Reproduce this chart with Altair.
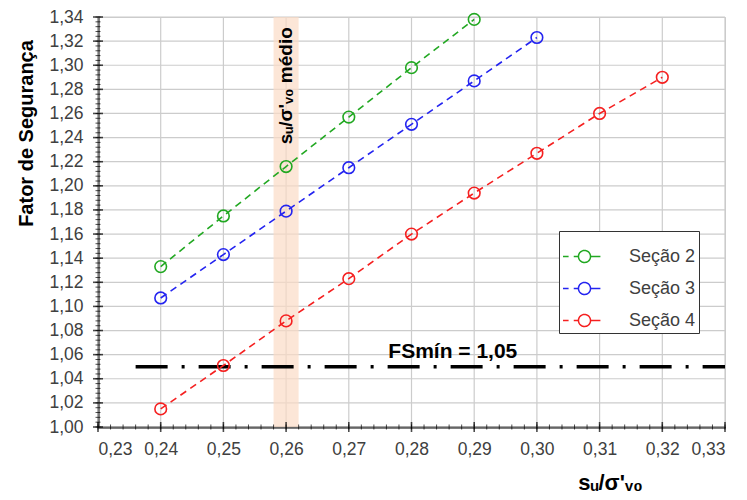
import altair as alt
import pandas as pd

# ---- data ----
series = ["Seção 2", "Seção 3", "Seção 4"]
colors = ["#22a822", "#2424f0", "#f52020"]

x_s2 = [0.24, 0.25, 0.26, 0.27, 0.28, 0.29]
y_s2 = [1.133, 1.175, 1.216, 1.257, 1.298, 1.338]
x_s3 = [0.24, 0.25, 0.26, 0.27, 0.28, 0.29, 0.30]
y_s3 = [1.107, 1.143, 1.179, 1.215, 1.251, 1.287, 1.323]
x_s4 = [0.24, 0.25, 0.26, 0.27, 0.28, 0.29, 0.30, 0.31, 0.32]
y_s4 = [1.015, 1.051, 1.088, 1.123, 1.160, 1.194, 1.227, 1.260, 1.290]

band_x = [0.258, 0.262]
fs_value = 1.05
fs_x = [0.236, 0.33]
fs_label = "FSmín = 1,05"
fs_label_pos = [0.2763, 1.0572]
band_label = "sᵤ/σ'ᵥ₀ médio"
band_label_pos = [0.26, 1.283]

x_ticks = [0.23, 0.24, 0.25, 0.26, 0.27, 0.28, 0.29, 0.30, 0.31, 0.32, 0.33]
y_ticks = [1.00, 1.02, 1.04, 1.06, 1.08, 1.10, 1.12, 1.14, 1.16, 1.18, 1.20,
           1.22, 1.24, 1.26, 1.28, 1.30, 1.32, 1.34]
x_minor = [round(0.23 + 0.002 * i, 4) for i in range(51)]
y_minor = [round(1.00 + 0.004 * i, 4) for i in range(86)]

x_title = "sᵤ/σ'ᵥ₀"
y_title = "Fator de Segurança"

# ---- tables ----
rows = []
for name, xs, ys in zip(series, [x_s2, x_s3, x_s4], [y_s2, y_s3, y_s4]):
    for xv, yv in zip(xs, ys):
        rows.append({"x": xv, "y": yv, "serie": name})
df = pd.DataFrame(rows)

lab = "replace(format(datum.value, '.2f'), '.', ',')"
xscale = alt.Scale(domain=[0.23, 0.33], nice=False, zero=False)
yscale = alt.Scale(domain=[1.00, 1.34], nice=False, zero=False)
xaxis = alt.Axis(values=x_ticks, labelExpr=lab, ticks=False, grid=False, labelPadding=13,
                 title=x_title, titleX=512, titleY=55, titleAlign="center",
                 titleBaseline="middle", titleFontSize=22)
yaxis = alt.Axis(values=y_ticks, labelExpr=lab, ticks=False, grid=False, labelPadding=15,
                 title=y_title, titleX=-72, titleY=116, titleAlign="center",
                 titleBaseline="middle", titleAngle=270, titleFontSize=20)

X = lambda f="x": alt.X(f"{f}:Q", scale=xscale, axis=xaxis)
Y = lambda f="y": alt.Y(f"{f}:Q", scale=yscale, axis=yaxis)

legend_path = ("M-1,0H-0.74M-0.5,0H-0.28M0.28,0H0.74"
               "M0.28,0A0.28,0.28,0,1,1,-0.28,0A0.28,0.28,0,1,1,0.28,0")
legend = alt.Legend(orient="none", legendX=461, legendY=214, title=None,
                    symbolType=legend_path, symbolSize=1849, symbolDash=[1, 0],
                    symbolStrokeWidth=1.5, symbolFillColor="transparent",
                    labelFontSize=18, labelFont="Liberation Sans",
                    labelColor="#404040", strokeColor="#333333",
                    fillColor="white", padding=3, rowPadding=0, labelOffset=22)
color = alt.Color("serie:N", scale=alt.Scale(domain=series, range=colors), legend=legend)

grid_x = alt.Chart(pd.DataFrame({"x": x_ticks})).mark_rule(
    color="#cccccc", strokeWidth=1.2).encode(x=X())
grid_y = alt.Chart(pd.DataFrame({"y": y_ticks})).mark_rule(
    color="#cccccc", strokeWidth=1.2).encode(y=Y())

band = alt.Chart(pd.DataFrame({"x": [band_x[0]], "x2": [band_x[1]]})).mark_rect(
    color="#fbdcc6", opacity=0.7).encode(x=X(), x2="x2:Q")

lines = alt.Chart(df).mark_line(strokeDash=[7, 5], strokeWidth=1.6).encode(
    x=X(), y=Y(), color=color, detail="serie:N")

points = alt.Chart(df).mark_point(filled=False, size=135, strokeWidth=1.6, opacity=1).encode(
    x=X(), y=Y(), color=color)

fs = alt.Chart(pd.DataFrame({"x": [fs_x[0]], "x2": [fs_x[1]], "y": [fs_value]})).mark_rule(
    color="black", strokeWidth=3.5, strokeDash=[32, 14, 3, 14]).encode(
    x=X(), x2="x2:Q", y=Y())

fs_text = alt.Chart(pd.DataFrame({"x": [fs_label_pos[0]], "y": [fs_label_pos[1]],
                                  "t": [fs_label]})).mark_text(
    align="left", baseline="alphabetic", font="Liberation Sans", fontSize=21,
    fontWeight="bold", color="black").encode(x=X(), y=Y(), text="t:N")

band_text = alt.Chart(pd.DataFrame({"x": [band_label_pos[0]], "y": [band_label_pos[1]],
                                    "t": [band_label]})).mark_text(
    align="center", baseline="middle", angle=270, font="Liberation Sans", fontSize=19,
    fontWeight="bold", color="black").encode(x=X(), y=Y(), text="t:N")

yt_major = alt.Chart(pd.DataFrame({"x": [0.23] * len(y_ticks), "y": y_ticks})).mark_tick(
    orient="horizontal", size=10, thickness=1.6, color="black").encode(x=X(), y=Y())
yt_minor = alt.Chart(pd.DataFrame({"x": [0.23] * len(y_minor), "y": y_minor})).mark_tick(
    orient="horizontal", size=5, thickness=1, color="black").encode(x=X(), y=Y())
xt_major = alt.Chart(pd.DataFrame({"x": x_ticks, "y": [1.0] * len(x_ticks)})).mark_tick(
    orient="vertical", size=10, thickness=1.6, color="black").encode(x=X(), y=Y())
xt_minor = alt.Chart(pd.DataFrame({"x": x_minor, "y": [1.0] * len(x_minor)})).mark_tick(
    orient="vertical", size=5, thickness=1, color="black").encode(x=X(), y=Y())

chart = alt.layer(grid_x, grid_y, band, fs, lines, points, fs_text, band_text,
                  yt_minor, yt_major, xt_minor, xt_major).properties(
    width=627, height=410,
    autosize=alt.AutoSizeParams(type="none"),
    padding={"left": 98, "top": 17, "right": 22, "bottom": 73},
).configure_view(stroke="#cccccc").configure_axis(
    domainColor="black", domainWidth=2,
    labelFont="Liberation Sans", labelFontSize=17.5, labelColor="#404040",
    titleFont="Liberation Sans", titleFontSize=17, titleFontWeight="bold",
    titleColor="black")

chart.save("out.html", embed_options={"renderer": "svg", "actions": False})
